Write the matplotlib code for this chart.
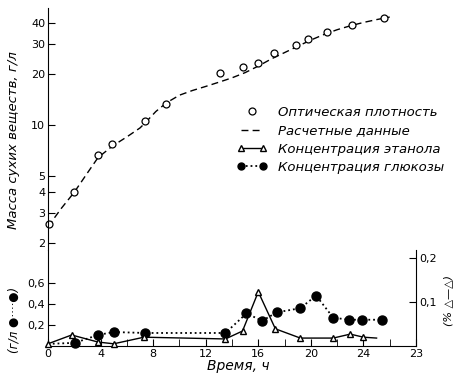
import matplotlib
matplotlib.use('Agg')
import matplotlib.pyplot as plt
from matplotlib.lines import Line2D
from matplotlib.legend_handler import HandlerLine2D

# optical density -> dry mass, g/l (open circles)
od_t = [0.05, 2.0, 3.8, 4.9, 7.4, 9.0, 13.1, 14.8, 16.0, 17.2, 18.9, 19.8, 21.2, 23.1, 25.6]
od_v = [2.6, 4.0, 6.6, 7.7, 10.5, 13.3, 20.3, 22.0, 23.3, 26.7, 29.7, 32.3, 35.5, 39.1, 43.0]

# calculated curve (dashed)
calc_t = [0, 1, 2, 3, 3.8, 4.9, 6.0, 7.0, 7.4, 8.2, 9, 10, 11, 12, 13, 14, 15, 16, 17, 18, 19, 20, 21, 22, 23, 24, 25, 26]
calc_v = [2.5, 3.2, 4.0, 5.2, 6.4, 7.5, 8.5, 9.6, 10.3, 12.0, 13.5, 15.0, 16.0, 16.9, 17.9, 19.0, 20.4, 22.3, 24.6, 26.8, 29.2, 31.8, 34.3, 36.6, 38.6, 40.4, 42.0, 43.5]

# ethanol, % (right axis, triangles)
eth_t = [0, 1.8, 3.8, 5.0, 7.3, 13.5, 14.8, 16.0, 17.3, 19.2, 21.7, 23.0, 24.0, 25.0]
eth_v = [0.005, 0.025, 0.009, 0.005, 0.020, 0.016, 0.034, 0.123, 0.039, 0.018, 0.018, 0.027, 0.020, 0.018]

# glucose, g/l (filled circles, dotted)
glu_t = [0, 2.05, 3.8, 5.0, 7.4, 13.5, 15.1, 16.3, 17.4, 19.2, 20.4, 21.7, 22.9, 23.9, 25.4]
glu_v = [0.02, 0.03, 0.105, 0.133, 0.124, 0.124, 0.31, 0.24, 0.32, 0.36, 0.48, 0.27, 0.25, 0.25, 0.25]

x_ticks = [0, 4, 8, 12, 16, 20, 24, 28]
x_labels = ['0', '4', '8', '12', '16', '20', '24', '23']
top_ticks = [2, 3, 4, 5, 10, 20, 30, 40]
top_labels = ['2', '3', '4', '5', '10', '20', '30', '40']
glu_ticks = [0.2, 0.4, 0.6]
glu_labels = ['0,2', '0,4', '0,6']
eth_ticks = [0.1, 0.2]
eth_labels = ['0,1', '0,2']

plt.rcParams['font.family'] = ['DejaVu Sans']

fig = plt.figure(figsize=(4.62, 3.79), dpi=100)
left, width = 48 / 462, 368 / 462
ax1 = fig.add_axes([left, 129 / 379, width, 242 / 379])
ax2 = fig.add_axes([left, 33 / 379, width, 96 / 379])
ax3 = ax2.twinx()

# upper panel, log scale
ax1.set_yscale('log')
ax1.set_xlim(0, 28)
ax1.set_ylim(1.82, 49.2)
ax1.plot(calc_t, calc_v, ls=(0, (5, 3)), color='black', lw=1.0)
ax1.plot(od_t, od_v, ls='none', marker='o', ms=5, mfc='white', mec='black', mew=0.9, clip_on=False)
for s in ['top', 'right', 'bottom']:
    ax1.spines[s].set_visible(False)
ax1.set_xticks([])
ax1.minorticks_off()
ax1.set_yticks(top_ticks)
ax1.set_yticklabels(top_labels)
ax1.tick_params(axis='y', direction='in', length=5, labelsize=8, pad=2)

# lower panel
ax2.set_xlim(0, 28)
ax2.set_ylim(0, 0.914)
ax3.set_ylim(0, 0.218)
ax2.plot(glu_t, glu_v, ls=':', lw=1.3, color='black', marker='o', ms=6.5, mfc='black', mec='black',
         markevery=list(range(1, len(glu_t))), clip_on=False)
ax3.plot(eth_t, eth_v, ls='-', lw=1.0, color='black', marker='^', ms=5, mfc='white', mec='black',
         markevery=list(range(len(eth_t) - 1)), clip_on=False)
ax2.spines['top'].set_visible(False)
ax2.spines['right'].set_visible(False)
for s in ['top', 'left', 'bottom']:
    ax3.spines[s].set_visible(False)
ax2.set_xticks(x_ticks)
ax2.set_xticklabels(x_labels)
ax2.set_xticks(range(2, 28, 4), minor=True)
ax2.set_yticks(glu_ticks)
ax2.set_yticklabels(glu_labels)
ax2.tick_params(axis='both', which='both', direction='in', length=5, labelsize=8, pad=2)
ax3.set_yticks(eth_ticks)
ax3.set_yticklabels(eth_labels)
ax3.tick_params(axis='y', direction='in', length=5, labelsize=8, pad=2)

# legend
h_od = Line2D([], [], ls='none', marker='o', ms=5, mfc='white', mec='black', mew=0.9)
h_calc = Line2D([], [], ls=(0, (5, 3)), color='black', lw=1.0)
h_eth = Line2D([], [], ls='-', lw=1.0, color='black', marker='^', ms=4, mfc='white', mec='black')
h_glu = Line2D([], [], ls=':', lw=1.3, color='black', marker='o', ms=5, mfc='black')
fig.legend([h_od, h_calc, h_eth, h_glu],
           ['Оптическая плотность', 'Расчетные данные', 'Концентрация этанола', 'Концентрация глюкозы'],
           loc='upper left', bbox_to_anchor=(237 / 462, 1 - 106 / 379), frameon=False,
           numpoints=2, handler_map={h_od: HandlerLine2D(numpoints=1)},
           prop={'style': 'italic', 'size': 9.5}, handlelength=2.3, handletextpad=0.8,
           labelspacing=0.4, borderpad=0, borderaxespad=0)

# axis labels
fig.text(14 / 462, 1 - 140 / 379, 'Масса сухих веществ, г/л', rotation=90, style='italic',
         fontsize=9.5, ha='center', va='center')
fig.text(14 / 462, 1 - 320 / 379, '(г/л ●····●)', rotation=90, style='italic',
         fontsize=8.5, ha='center', va='center')
fig.text(448 / 462, 1 - 300 / 379, '(% △—△)', rotation=90, style='italic',
         fontsize=8, ha='center', va='center')
fig.text(238 / 462, 1 - 366 / 379, 'Время, ч', style='italic', fontsize=10, ha='center', va='center')

fig.savefig('out.png', dpi=100)
